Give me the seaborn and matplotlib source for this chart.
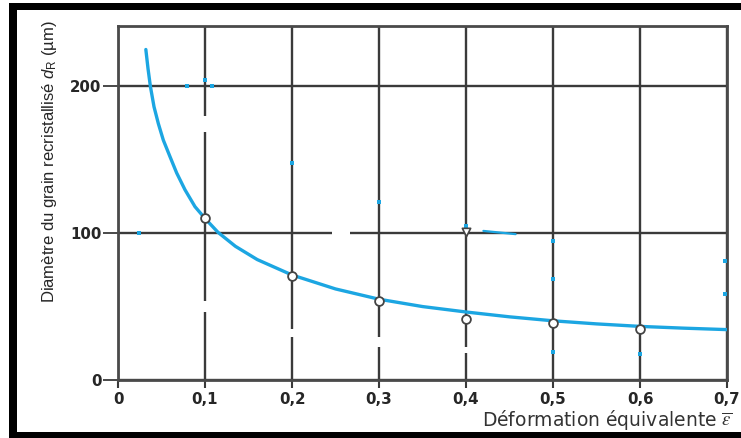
import matplotlib
matplotlib.use("Agg")
import matplotlib.pyplot as plt
from matplotlib.patches import Rectangle
from matplotlib import font_manager
import pandas as pd
import seaborn as sns

# Recrystallised grain size versus equivalent strain (fitted curve)
strain_curve = [0.032, 0.0345, 0.0372, 0.0414, 0.0464, 0.0521, 0.0598, 0.0674,
                0.077, 0.0885, 0.100, 0.115, 0.135, 0.160, 0.200, 0.250, 0.300,
                0.350, 0.400, 0.450, 0.500, 0.550, 0.600, 0.650, 0.700]
grain_curve = [225, 212, 200, 186, 174.5, 163.3, 152, 141,
               129.5, 118, 110, 100.5, 91, 82, 71.5, 62, 55,
               50, 46.3, 43, 40.3, 38.2, 36.5, 35.3, 34.3]

# measured grain sizes
strain_points = [0.1, 0.2, 0.3, 0.4, 0.5, 0.6]
grain_points = [110, 71, 54, 41.5, 38.5, 34.5]

strain_extra = [0.4]
grain_extra = [101]

# short leftover piece of a second curve and small blue specks
strain_piece = [0.42, 0.457]
grain_piece = [101.5, 99.3]
strain_specks = [0.0245, 0.079, 0.1077, 0.100, 0.2, 0.3, 0.4, 0.5, 0.5, 0.5, 0.6, 0.698, 0.698]
grain_specks = [100, 200, 200, 204.5, 148, 121, 105, 94.6, 69, 19.3, 17.5, 81, 58.5]

# interrupted stretches of the vertical grid lines (strain, from, to)
gap_x = [0.1, 0.1, 0.2, 0.3, 0.4]
gap_lo = [169, 46, 29, 22.5, 18.5]
gap_hi = [180, 54, 35, 29, 22.5]

x_ticks = [0, 0.1, 0.2, 0.3, 0.4, 0.5, 0.6, 0.7]
x_tick_labels = ["0", "0,1", "0,2", "0,3", "0,4", "0,5", "0,6", "0,7"]
y_ticks = [0, 100, 200]
y_tick_labels = ["0", "100", "200"]

curve_df = pd.DataFrame({"strain": strain_curve, "grain": grain_curve})
points_df = pd.DataFrame({"strain": strain_points, "grain": grain_points})
extra_df = pd.DataFrame({"strain": strain_extra, "grain": grain_extra})
piece_df = pd.DataFrame({"strain": strain_piece, "grain": grain_piece})
specks_df = pd.DataFrame({"strain": strain_specks, "grain": grain_specks})

sns.set_theme(style="white")
available = {f.name for f in font_manager.fontManager.ttflist}
narrow = "Liberation Sans Narrow" if "Liberation Sans Narrow" in available else "Liberation Sans"
plt.rcParams["font.family"] = ["DejaVu Sans"]
plt.rcParams["mathtext.fontset"] = "custom"
plt.rcParams["mathtext.rm"] = narrow
plt.rcParams["mathtext.it"] = narrow + ":italic"

W, H = 741, 438
fig = plt.figure(figsize=(W / 100, H / 100), dpi=100)
fig.patch.set_facecolor("white")

left, right, top, bottom = 118, 727, 26, 380
ax = fig.add_axes([left / W, 1 - bottom / H, (right - left) / W, (bottom - top) / H])

grid_c = "#3a3a3a"
blue = "#1ca6e2"

ax.set_xlim(0, 0.7)
ax.set_ylim(0, 241)
ax.set_xticks(x_ticks)
ax.set_xticklabels(x_tick_labels)
ax.set_yticks(y_ticks)
ax.set_yticklabels(y_tick_labels)
ax.grid(True, color=grid_c, lw=1.7)
ax.set_axisbelow(True)
for sp in ax.spines.values():
    sp.set_visible(True)
    sp.set_color("#4a4a4a")
    sp.set_linewidth(2)

ax.tick_params(axis="x", direction="out", length=6, width=1.5, pad=3, color=grid_c,
               labelsize=10.8, labelcolor="#262626", bottom=True)
ax.tick_params(axis="y", direction="out", length=11, width=1.3, pad=1, color=grid_c,
               labelsize=10.8, labelcolor="#262626", left=True)
for lab in ax.get_xticklabels() + ax.get_yticklabels():
    lab.set_fontweight("bold")

# breaks in the grid lines
ax.vlines(gap_x, gap_lo, gap_hi, colors="white", lw=3.2, zorder=1)
ax.hlines([100], [0.246], [0.267], colors="white", lw=3.2, zorder=1)

sns.lineplot(data=curve_df, x="strain", y="grain", ax=ax, color=blue, lw=2.4,
             zorder=3, legend=False)
sns.lineplot(data=piece_df, x="strain", y="grain", ax=ax, color=blue, lw=1.6,
             zorder=3, legend=False)
sns.scatterplot(data=specks_df, x="strain", y="grain", ax=ax, marker="s", s=5,
                color=blue, linewidth=0, zorder=3, legend=False)
sns.scatterplot(data=points_df, x="strain", y="grain", ax=ax, marker="o", s=40,
                facecolor="white", edgecolor="#444444", linewidth=1.3, zorder=4,
                legend=False)
sns.scatterplot(data=extra_df, x="strain", y="grain", ax=ax, marker="v", s=36,
                facecolor="white", edgecolor="#444444", linewidth=1.2, zorder=4,
                legend=False)
ax.set_xlabel("")
ax.set_ylabel("")

fig.text(50 / W, 1 - 162 / H, r"Diamètre du grain recristallisé $d_{\mathrm{R}}$ (µm)",
         rotation=90, ha="center", va="center", fontsize=12, color="#262626",
         family=narrow)
fig.text(732 / W, 1 - 420 / H, r"Déformation équivalente $\overline{\varepsilon}$",
         ha="right", va="center", fontsize=13.5, color="#333333",
         math_fontfamily="stix")

# black frame around the figure
def px_rect(x0, y0, x1, y1):
    fig.add_artist(Rectangle((x0 / W, 1 - y1 / H), (x1 - x0) / W, (y1 - y0) / H,
                             transform=fig.transFigure, facecolor="black",
                             edgecolor="none", zorder=10))

px_rect(9, 3, 17, 438)
px_rect(9, 3, 741, 10)
px_rect(9, 432, 741, 438)

fig.savefig("out.png", dpi=100)
